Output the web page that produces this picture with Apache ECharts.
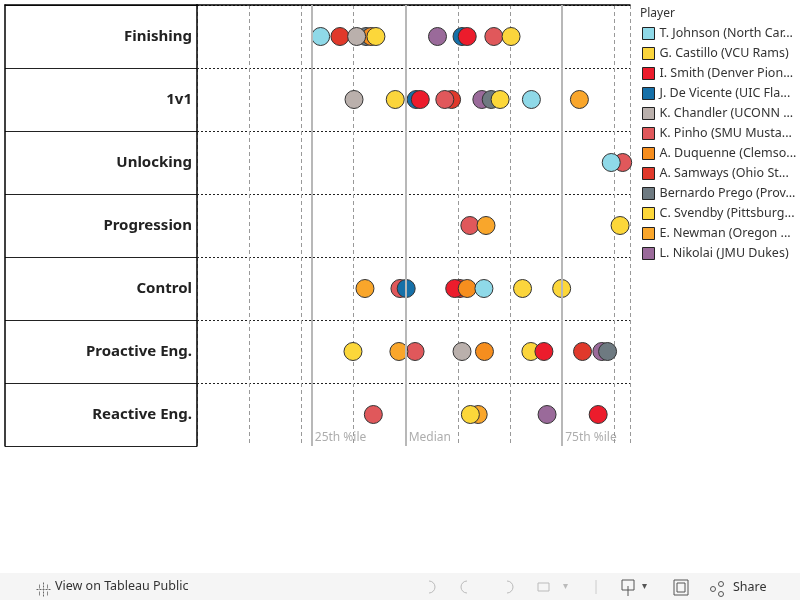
<!DOCTYPE html>
<html>
<head>
<meta charset="utf-8">
<script src="https://cdn.jsdelivr.net/npm/echarts@6/dist/echarts.min.js"></script>
<style>
html,body{margin:0;padding:0;background:#fff;}
#chart{width:800px;height:600px;}
</style>
</head>
<body>
<div id="chart"></div>
<script>
// ---- data ----
const categories = ['Finishing', '1v1', 'Unlocking', 'Progression', 'Control', 'Proactive Eng.', 'Reactive Eng.'];
// legend order (as shown)
const legendNames = [
  'T. Johnson (North Car...', 'G. Castillo (VCU Rams)', 'I. Smith (Denver Pion...',
  'J. De Vicente (UIC Fla...', 'K. Chandler (UCONN ...', 'K. Pinho (SMU Musta...',
  'A. Duquenne (Clemso...', 'A. Samways (Ohio St...', 'Bernardo Prego (Prov...',
  'C. Svendby (Pittsburg...', 'E. Newman (Oregon ...', 'L. Nikolai (JMU Dukes)'
];
// values per category (same order as categories), null = not shown
const johnson   = [23.7, 64.1, 79.4, null, 55.0, null, null];
const castillo  = [60.2, 38.0, null, null, 62.4, 64.0, null];
const smith     = [51.8, 42.8, null, null, 49.4, 66.5, 76.9];
const deVicente = [50.8, 42.0, null, null, 40.1, null, null];
const chandler  = [30.6, 30.1, null, null, null, 50.8, null];
const pinho     = [56.9, 47.5, 81.6, 52.3, 38.9, 41.8, 33.8];
const duquenne  = [33.4, null, null, null, 51.8, 55.1, null];
const samways   = [27.4, 48.8, null, null, 50.4, 73.9, null];
const prego     = [32.4, 56.4, null, null, null, 78.7, null];
const svendby   = [34.3, 58.1, null, 81.1, 69.9, 29.9, 52.4];
const newman    = [null, 73.3, null, 55.4, 32.2, 38.7, 53.9];
const nikolai   = [46.1, 54.6, null, null, null, 77.6, 67.1];
// reference lines
const refValues = [22, 40, 70];
const refLabels = ['25th %ile', 'Median', '75th %ile'];

// ---- styling ----
const players = [
  // drawing order (bottom -> top)
  {name: legendNames[7],  vals: samways,   color: '#E0392B'},
  {name: legendNames[5],  vals: pinho,     color: '#E0585B'},
  {name: legendNames[3],  vals: deVicente, color: '#1670A8'},
  {name: legendNames[1],  vals: castillo,  color: '#FBD53C'},
  {name: legendNames[2],  vals: smith,     color: '#EC1C2C'},
  {name: legendNames[11], vals: nikolai,   color: '#9A6A9A'},
  {name: legendNames[8],  vals: prego,     color: '#6E7A81'},
  {name: legendNames[10], vals: newman,    color: '#F9A62B'},
  {name: legendNames[6],  vals: duquenne,  color: '#F68E1E'},
  {name: legendNames[4],  vals: chandler,  color: '#BAB0AC'},
  {name: legendNames[0],  vals: johnson,   color: '#8FD9E8'},
  {name: legendNames[9],  vals: svendby,   color: '#FCD73A'}
];

const FONT = '"Noto Sans", "DejaVu Sans", sans-serif';

const series = players.map(p => ({
  name: p.name,
  type: 'scatter',
  xAxisIndex: 0, yAxisIndex: 0,
  symbolSize: 18,
  itemStyle: {color: p.color, borderColor: '#333', borderWidth: 1, opacity: 1},
  data: p.vals.map((v, i) => v === null ? null : [v, categories[i]]).filter(d => d)
}));

series.unshift({
  name: 'refs',
  type: 'scatter',
  xAxisIndex: 0, yAxisIndex: 0,
  symbolSize: 0,
  silent: true,
  z: 1,
  data: refValues.map((v, i) => ({value: [v, categories[categories.length - 1]], name: refLabels[i]})),
  label: {
    show: true, position: 'right', distance: 3, offset: [0, 23],
    formatter: p => p.name, color: '#999', fontSize: 12, fontFamily: FONT
  },
  markLine: {
    symbol: 'none', silent: true, animation: false,
    label: {show: false},
    lineStyle: {color: '#b8b8b8', width: 2, type: 'solid'},
    data: refValues.map(v => ({xAxis: v}))
  }
});

const chart = echarts.init(document.getElementById('chart'), null, {renderer: 'canvas'});
chart.setOption({
  animation: false,
  backgroundColor: '#fff',
  title: {
    text: 'Player', left: 640, top: 8, padding: 0,
    textStyle: {fontSize: 12, fontWeight: 'normal', color: '#333', fontFamily: FONT}
  },
  legend: {
    data: legendNames,
    orient: 'vertical', left: 642, top: 27, padding: 0,
    itemWidth: 12, itemHeight: 12, itemGap: 7,
    icon: 'rect',
    itemStyle: {borderWidth: 1, borderColor: '#222'},
    textStyle: {fontSize: 12.5, lineHeight: 12, color: '#333', fontFamily: FONT},
    selectedMode: false
  },
  grid: [
    {left: 197, top: 5, width: 433, height: 441},
    {left: 5, top: 5, width: 192, height: 441}
  ],
  xAxis: [
    {
      type: 'value', gridIndex: 0, min: 0, max: 83, interval: 10, position: 'top',
      axisLine: {show: true, lineStyle: {color: '#000', width: 1.5}},
      axisTick: {show: false}, axisLabel: {show: false},
      splitLine: {show: true, lineStyle: {color: '#999', type: [4, 3], width: 1}}
    },
    {
      type: 'value', gridIndex: 1, min: 0, max: 1, show: true, position: 'top',
      axisLine: {show: true, lineStyle: {color: '#000', width: 1.5}},
      axisTick: {show: false}, axisLabel: {show: false}, splitLine: {show: false}
    }
  ],
  yAxis: [
    {
      type: 'category', gridIndex: 0, data: categories, inverse: true,
      axisLine: {show: true, lineStyle: {color: '#000', width: 1.5}},
      axisTick: {show: false},
      axisLabel: {show: true, margin: 5, fontSize: 15, fontWeight: 'bold', color: '#222', fontFamily: FONT, padding: [4, 0, 0, 0]},
      splitLine: {show: true, showMaxLine: false, lineStyle: {color: '#222', type: [2, 2], width: 1}}
    },
    {
      type: 'category', gridIndex: 1, data: categories, inverse: true,
      axisLine: {show: true, lineStyle: {color: '#000', width: 1.5}},
      axisTick: {show: false}, axisLabel: {show: false},
      splitLine: {show: true, lineStyle: {color: '#222', type: 'solid', width: 1.2}}
    }
  ],
  graphic: [
    {type: 'rect', left: 0, top: 573, shape: {width: 800, height: 27}, style: {fill: '#f5f5f5'}, z: 0},
    // Tableau logo (approx)
    {type: 'group', left: 34, top: 580, children: [
      {type: 'line', shape: {x1: 7, y1: 0, x2: 7, y2: 14}, style: {stroke: '#666', lineWidth: 1, lineDash: [2, 1]}},
      {type: 'line', shape: {x1: 0, y1: 7, x2: 14, y2: 7}, style: {stroke: '#666', lineWidth: 1, lineDash: [2, 1]}},
      {type: 'line', shape: {x1: 3, y1: 2, x2: 3, y2: 6}, style: {stroke: '#888', lineWidth: 1}},
      {type: 'line', shape: {x1: 11, y1: 2, x2: 11, y2: 6}, style: {stroke: '#888', lineWidth: 1}},
      {type: 'line', shape: {x1: 3, y1: 9, x2: 3, y2: 13}, style: {stroke: '#888', lineWidth: 1}},
      {type: 'line', shape: {x1: 11, y1: 9, x2: 11, y2: 13}, style: {stroke: '#888', lineWidth: 1}}
    ]},
    {type: 'text', left: 55, top: 580, style: {text: 'View on Tableau Public', fill: '#333', font: '12.5px ' + FONT}},
    // undo / redo icons (approx)
    {type: 'arc', shape: {cx: 429, cy: 587, r: 6, startAngle: -Math.PI / 2, endAngle: Math.PI / 2}, style: {stroke: '#bbb', fill: 'none', lineWidth: 1}},
    {type: 'arc', shape: {cx: 467, cy: 587, r: 6, startAngle: Math.PI / 2, endAngle: 3 * Math.PI / 2}, style: {stroke: '#bbb', fill: 'none', lineWidth: 1}},
    {type: 'arc', shape: {cx: 507, cy: 587, r: 6, startAngle: -Math.PI / 2, endAngle: Math.PI / 2}, style: {stroke: '#bbb', fill: 'none', lineWidth: 1}},
    {type: 'rect', shape: {x: 538, y: 583, width: 11, height: 8}, style: {stroke: '#bbb', fill: 'none', lineWidth: 1}},
    {type: 'text', left: 563, top: 581, style: {text: '▾', fill: '#bbb', font: '10px ' + FONT}},
    {type: 'line', shape: {x1: 596, y1: 580, x2: 596, y2: 594}, style: {stroke: '#ccc', lineWidth: 1}},
    {type: 'rect', shape: {x: 622, y: 580, width: 12, height: 10}, style: {stroke: '#555', fill: 'none', lineWidth: 1}},
    {type: 'line', shape: {x1: 628, y1: 586, x2: 628, y2: 596}, style: {stroke: '#555', lineWidth: 1}},
    {type: 'text', left: 642, top: 581, style: {text: '▾', fill: '#555', font: '10px ' + FONT}},
    {type: 'rect', shape: {x: 674, y: 580, width: 14, height: 15}, style: {stroke: '#555', fill: 'none', lineWidth: 1}},
    {type: 'rect', shape: {x: 677, y: 583, width: 8, height: 9}, style: {stroke: '#555', fill: 'none', lineWidth: 1}},
    {type: 'circle', shape: {cx: 713, cy: 589, r: 2.5}, style: {stroke: '#555', fill: 'none', lineWidth: 1}},
    {type: 'circle', shape: {cx: 721, cy: 584, r: 2.5}, style: {stroke: '#555', fill: 'none', lineWidth: 1}},
    {type: 'circle', shape: {cx: 721, cy: 594, r: 2.5}, style: {stroke: '#555', fill: 'none', lineWidth: 1}},
    {type: 'text', left: 733, top: 581, style: {text: 'Share', fill: '#333', font: '12.5px ' + FONT}}
  ],
  series: series
});
</script>
</body>
</html>
